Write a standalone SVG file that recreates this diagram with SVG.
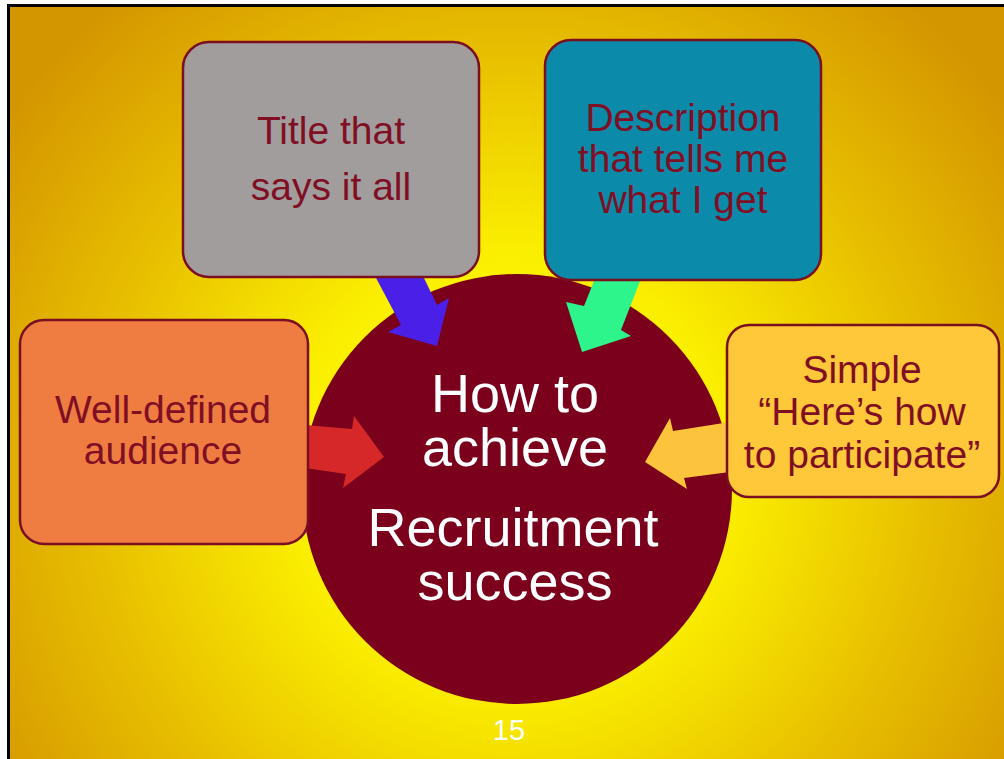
<svg xmlns="http://www.w3.org/2000/svg" width="1004" height="759" viewBox="0 0 1004 759">
  <defs>
    <radialGradient id="bg" gradientUnits="userSpaceOnUse" cx="510" cy="470" r="620">
      <stop offset="0" stop-color="#ffff00"/>
      <stop offset="0.35" stop-color="#fbef00"/>
      <stop offset="0.7" stop-color="#e6bb00"/>
      <stop offset="1" stop-color="#d39500"/>
    </radialGradient>
    <style>
      .box { stroke: #7a0f22; stroke-width: 2.5; }
      .lbl { font-family: "Liberation Sans", Arial, sans-serif; fill: #800f24; text-anchor: middle; font-size: 39px; }
      .hub { font-family: "Liberation Sans", Arial, sans-serif; fill: #ffffff; text-anchor: middle; font-size: 54px; }
    </style>
  </defs>

  <!-- backdrop -->
  <rect x="0" y="0" width="1004" height="759" fill="#ffffff"/>
  <rect x="8.5" y="5.5" width="1010" height="770" fill="url(#bg)" stroke="#000000" stroke-width="3"/>

  <!-- central hub -->
  <g id="hub">
    <circle cx="517" cy="489" r="215" fill="#7a001b"/>
    <text class="hub" x="515" y="412">How to</text>
    <text class="hub" x="515" y="466">achieve</text>
    <text class="hub" x="513" y="546">Recruitment</text>
    <text class="hub" x="515" y="600">success</text>
  </g>

  <!-- block arrows pointing into the hub -->
  <g id="connectors">
    <polygon fill="#4a20e8" points="375,276 423,276 437,305 449,298 437,346 388,332 401,325"/>
    <polygon fill="#2ef58b" points="596,276 642,276 621,330 631,336 582,352 566,302 584,306"/>
    <polygon fill="#d62828" points="305,425 352,429 354,416 384,457 343,488 346,474 305,468"/>
    <polygon fill="#fcc43c" points="730,422 673,431 670,418 645,462 687,489 684,478 730,472"/>
  </g>

  <g id="title">
    <rect class="box" x="183" y="42" width="296" height="235" rx="26" fill="#a19d9d"/>
    <text class="lbl" x="331" y="144">Title that</text>
    <text class="lbl" x="331" y="200">says it all</text>
  </g>

  <g id="description">
    <rect class="box" x="545" y="40" width="276" height="240" rx="26" fill="#0b8aaa"/>
    <text class="lbl" x="683" y="131">Description</text>
    <text class="lbl" x="683" y="172">that tells me</text>
    <text class="lbl" x="683" y="213">what I get</text>
  </g>

  <g id="audience">
    <rect class="box" x="20" y="320" width="288" height="224" rx="24" fill="#ef7d42"/>
    <text class="lbl" x="163" y="423">Well-defined</text>
    <text class="lbl" x="163" y="464">audience</text>
  </g>

  <g id="participate">
    <rect class="box" x="727" y="325" width="272" height="172" rx="22" fill="#fec83a"/>
    <text class="lbl" x="862" y="383">Simple</text>
    <text class="lbl" x="862" y="425">“Here’s how</text>
    <text class="lbl" x="862" y="468">to participate”</text>
  </g>

  <text x="509" y="740" font-family="Liberation Sans, Arial, sans-serif" font-size="29" fill="#ffffff" text-anchor="middle">15</text>
</svg>
